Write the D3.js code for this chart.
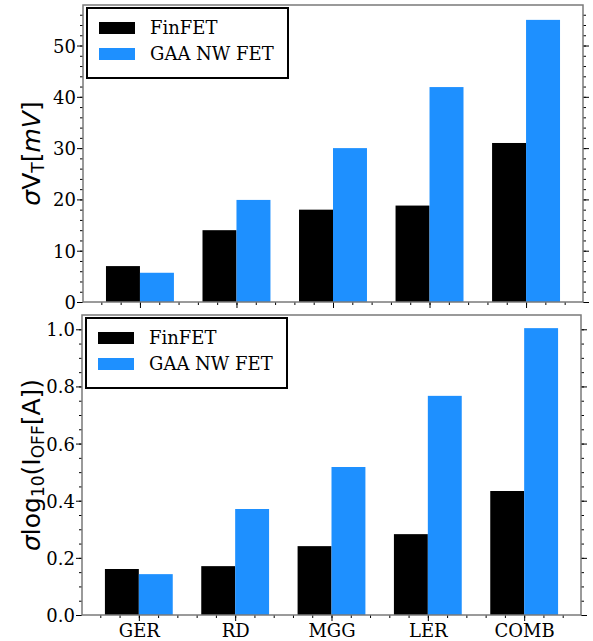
<!DOCTYPE html>
<html>
<head>
<meta charset="utf-8">
<script src="https://cdn.jsdelivr.net/npm/d3@7"></script>
<style>
  body { margin: 0; background: #fff; }
  svg { display: block; }
</style>
</head>
<body>
<svg id="chart" width="593" height="641"></svg>
<script>
// data
var categories = ['GER', 'RD', 'MGG', 'LER', 'COMB'];
var seriesNames = ['FinFET', 'GAA NW FET'];
var seriesColors = ['#000000', '#1e90ff'];

var vtFinfet = [7.0, 14.0, 18.0, 18.8, 31.0];
var vtGaa = [5.7, 19.9, 30.0, 41.9, 55.0];
var vtTicks = [0, 10, 20, 30, 40, 50];

var ioffFinfet = [0.161, 0.171, 0.241, 0.283, 0.434];
var ioffGaa = [0.143, 0.371, 0.518, 0.767, 1.004];
var ioffTicks = [0.0, 0.2, 0.4, 0.6, 0.8, 1.0];

var svg = d3.select('#chart');
var serif = 'DejaVu Serif, serif';
var sans = 'DejaVu Sans, sans-serif';
var spineColor = '#7a7a7a';

function drawPanel(opts) {
	var g = svg.append('g');
	var x = d3.scaleLinear().domain([-0.59, categories.length - 0.41]).range([opts.left, opts.right]);
	var y = d3.scaleLinear().domain(opts.ydomain).range([opts.bottom, opts.top]);
	var barW = 0.352;

	// bars
	[opts.s1, opts.s2].forEach(function(vals, si) {
		g.selectAll(null)
			.data(vals)
			.enter().append('rect')
			.attr('x', function(d, i) { return x(i - barW + si * barW); })
			.attr('width', function() { return x(barW) - x(0); })
			.attr('y', function(d) { return y(d); })
			.attr('height', function(d) { return y(0) - y(d); })
			.attr('fill', seriesColors[si]);
	});

	// left axis
	var left = g.append('g').attr('transform', 'translate(' + opts.left + ',0)');
	left.call(d3.axisLeft(y).tickValues(opts.minor).tickSize(3).tickFormat(''));
	left.append('g').call(d3.axisLeft(y).tickValues(opts.ticks).tickSize(6).tickFormat(opts.fmt));
	// right axis
	var right = g.append('g').attr('transform', 'translate(' + opts.right + ',0)');
	right.call(d3.axisRight(y).tickValues(opts.minor).tickSize(3).tickFormat(''));
	right.append('g').call(d3.axisRight(y).tickValues(opts.ticks).tickSize(6).tickFormat(''));
	// bottom axis
	var xMinor = d3.range(-2, categories.length * 5 + 3).map(function(k) { return k / 5; })
		.filter(function(v) { return v >= -0.59 && v <= categories.length - 0.41; });
	var bottom = g.append('g').attr('transform', 'translate(0,' + opts.bottom + ')');
	bottom.call(d3.axisBottom(x).tickValues(xMinor).tickSize(3).tickFormat(''));
	bottom.append('g').call(d3.axisBottom(x).tickValues(d3.range(categories.length)).tickSize(6)
		.tickFormat(function(d) { return opts.showCats ? categories[d] : ''; }));

	g.selectAll('.domain').remove();
	g.selectAll('.tick line').attr('stroke', '#000').attr('stroke-width', 1);
	g.selectAll('.tick text').attr('font-family', serif).attr('font-size', 18).attr('fill', '#000');
	left.selectAll('.tick text').attr('x', -7).attr('dy', '0.36em');
	bottom.selectAll('.tick text').attr('y', 9);

	// frame
	g.append('rect')
		.attr('x', opts.left).attr('y', opts.top)
		.attr('width', opts.right - opts.left).attr('height', opts.bottom - opts.top)
		.attr('fill', 'none').attr('stroke', spineColor).attr('stroke-width', 1.5);

	// legend
	var lg = g.append('g').attr('transform', 'translate(' + (opts.left + 4) + ',' + (opts.top + 3) + ')');
	lg.append('rect').attr('x', 0).attr('y', 0).attr('width', 201).attr('height', 70)
		.attr('fill', '#fff').attr('stroke', '#000').attr('stroke-width', 2);
	seriesNames.forEach(function(name, i) {
		var cy = 20 + i * 26;
		lg.append('rect').attr('x', 12).attr('y', cy - 6).attr('width', 36).attr('height', 12)
			.attr('fill', seriesColors[i]);
		lg.append('text').attr('x', 63).attr('y', cy).attr('dy', '0.36em')
			.attr('font-family', serif).attr('font-size', 18).text(name);
	});

	// y label
	var cy = (opts.top + opts.bottom) / 2;
	var lab = g.append('text')
		.attr('transform', 'translate(' + opts.labelX + ',' + cy + ') rotate(-90)')
		.attr('text-anchor', 'middle')
		.attr('font-family', sans).attr('font-size', 25).attr('fill', '#000');
	opts.label.forEach(function(p) {
		var t = lab.append('tspan').text(p.t);
		if (p.it) t.attr('font-style', 'italic');
		if (p.sub) t.attr('font-size', 17).attr('dy', 4);
		if (p.up) t.attr('dy', -4);
	});
}

drawPanel({
	left: 83, right: 583, top: 5, bottom: 302,
	ydomain: [0, 57.9],
	ticks: vtTicks,
	minor: d3.range(0, 58, 2),
	fmt: d3.format('d'),
	s1: vtFinfet, s2: vtGaa,
	showCats: false,
	labelX: 40,
	label: [{t: 'σ', it: true}, {t: 'V'}, {t: 'T', sub: true}, {t: '[', up: true}, {t: 'mV', it: true}, {t: ']'}]
});

drawPanel({
	left: 82, right: 581, top: 315, bottom: 615,
	ydomain: [0, 1.05],
	ticks: ioffTicks,
	minor: d3.range(0, 21).map(function(k) { return k * 0.05; }),
	fmt: d3.format('.1f'),
	s1: ioffFinfet, s2: ioffGaa,
	showCats: true,
	labelX: 40,
	label: [{t: 'σ', it: true}, {t: 'log'}, {t: '10', sub: true}, {t: '(I', up: true}, {t: 'OFF', sub: true}, {t: '[A])', up: true}]
});
</script>
</body>
</html>
